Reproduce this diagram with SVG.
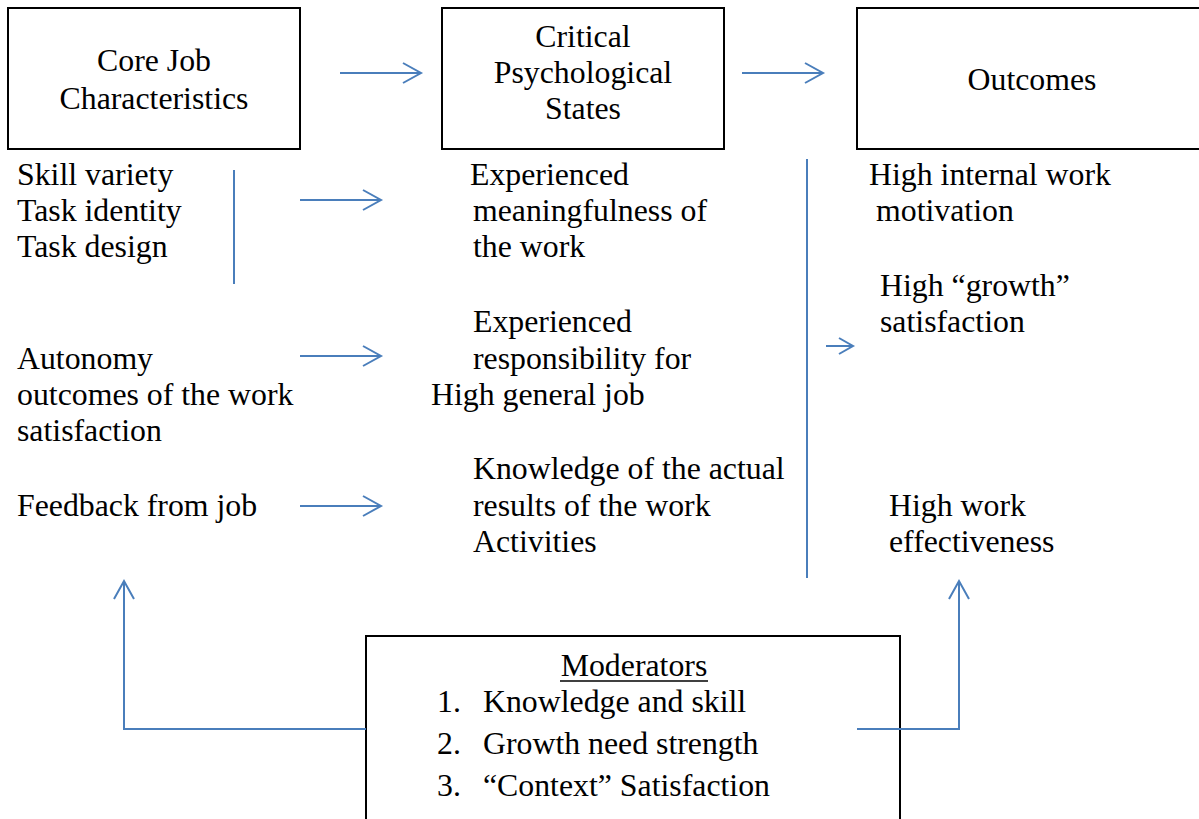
<svg xmlns="http://www.w3.org/2000/svg" width="1199" height="819" viewBox="0 0 1199 819">
<style>
.box{fill:#fff;stroke:#000;stroke-width:2}
.t{font-family:"Liberation Serif","Times New Roman",serif;font-size:31.8px;fill:#000}
.c{text-anchor:middle}
.con{fill:none;stroke:#4a7ebb;stroke-width:2}
</style>
<defs>
<marker id="ah" viewBox="-20 -12 24 24" refX="0" refY="0" markerUnits="userSpaceOnUse" markerWidth="24" markerHeight="24" orient="auto" overflow="visible">
<path d="M-18,-10 L0,0 L-18,10" fill="none" stroke="#4a7ebb" stroke-width="2"/>
</marker>
<marker id="ahs" viewBox="-20 -12 24 24" refX="0" refY="0" markerUnits="userSpaceOnUse" markerWidth="24" markerHeight="24" orient="auto" overflow="visible">
<path d="M-14,-8 L0,0 L-14,8" fill="none" stroke="#4a7ebb" stroke-width="2"/>
</marker>
</defs>
<rect width="1199" height="819" fill="#fff"/>
<g id="core-job">
<rect class="box" x="8" y="8" width="292" height="141"/>
<text class="t c" x="154" y="71">Core Job</text>
<text class="t c" x="154" y="109">Characteristics</text>
</g>
<g id="critical-states">
<rect class="box" x="442" y="8" width="282" height="141"/>
<text class="t c" x="583" y="47">Critical</text>
<text class="t c" x="583" y="83">Psychological</text>
<text class="t c" x="583" y="119">States</text>
</g>
<g id="outcomes">
<rect class="box" x="857" y="8" width="350" height="141"/>
<text class="t c" x="1032" y="90">Outcomes</text>
</g>
<g id="core-list">
<text class="t" x="17" y="185">Skill variety</text>
<text class="t" x="17" y="221">Task identity</text>
<text class="t" x="17" y="257">Task design</text>
<text class="t" x="17" y="369">Autonomy</text>
<text class="t" x="17" y="405">outcomes of the work</text>
<text class="t" x="17" y="441">satisfaction</text>
<text class="t" x="17" y="516">Feedback from job</text>
</g>
<g id="states-list">
<text class="t" x="470" y="185">Experienced</text>
<text class="t" x="473" y="221">meaningfulness of</text>
<text class="t" x="473" y="257">the work</text>
<text class="t" x="473" y="332">Experienced</text>
<text class="t" x="473" y="369">responsibility for</text>
<text class="t" x="431" y="405">High general job</text>
<text class="t" x="473" y="479">Knowledge of the actual</text>
<text class="t" x="473" y="516">results of the work</text>
<text class="t" x="473" y="552">Activities</text>
</g>
<g id="outcomes-list">
<text class="t" x="869" y="185">High internal work</text>
<text class="t" x="876" y="221">motivation</text>
<text class="t" x="880" y="296">High “growth”</text>
<text class="t" x="880" y="332">satisfaction</text>
<text class="t" x="889" y="516">High work</text>
<text class="t" x="889" y="552">effectiveness</text>
</g>
<g id="moderators">
<rect class="box" x="366" y="636" width="534" height="200"/>
<text class="t c" x="634" y="676">Moderators</text>
<line x1="560" y1="681" x2="708" y2="681" stroke="#000" stroke-width="1.5"/>
<text class="t" x="437" y="712">1.</text>
<text class="t" x="483" y="712">Knowledge and skill</text>
<text class="t" x="437" y="754">2.</text>
<text class="t" x="483" y="754">Growth need strength</text>
<text class="t" x="437" y="796">3.</text>
<text class="t" x="483" y="796">“Context” Satisfaction</text>
</g>
<g id="connectors">
<line class="con" x1="340" y1="73" x2="421" y2="73" marker-end="url(#ah)"/>
<line class="con" x1="742" y1="73" x2="823" y2="73" marker-end="url(#ah)"/>
<line class="con" x1="234" y1="170" x2="234" y2="284"/>
<line class="con" x1="300" y1="200" x2="381" y2="200" marker-end="url(#ah)"/>
<line class="con" x1="300" y1="356" x2="381" y2="356" marker-end="url(#ah)"/>
<line class="con" x1="300" y1="506" x2="381" y2="506" marker-end="url(#ah)"/>
<line class="con" x1="807" y1="159" x2="807" y2="578"/>
<line class="con" x1="826" y1="346" x2="853" y2="346" marker-end="url(#ahs)"/>
<polyline class="con" points="366,729 124,729 124,581" marker-end="url(#ah)"/>
<polyline class="con" points="857,729 959,729 959,581" marker-end="url(#ah)"/>
</g>
</svg>
